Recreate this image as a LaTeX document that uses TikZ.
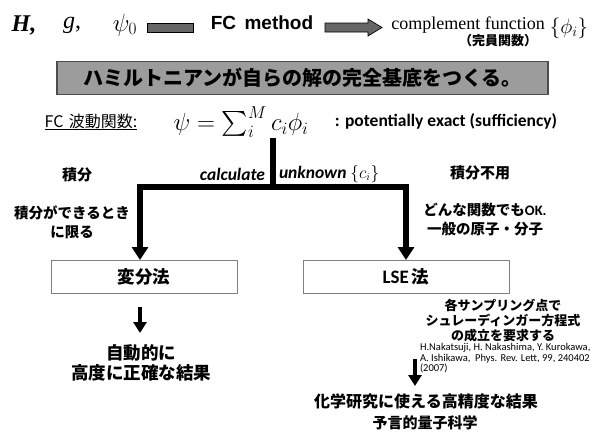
\documentclass[tikz,border=0pt]{standalone}
\usepackage{exscale}
\usepackage{fontspec}
\setmainfont{Liberation Serif}
\newfontfamily\jpfont{Noto Sans CJK JP}
\newfontfamily\arialfont{Liberation Sans}
\newfontfamily\calibrifont{Carlito}
\usetikzlibrary{arrows.meta}
\definecolor{bargray}{HTML}{666666}
\definecolor{bannergray}{HTML}{9C9C9C}
\definecolor{boxline}{HTML}{808080}
\newcommand{\fs}[1]{\fontsize{#1}{#1}\selectfont}
\begin{document}
\begin{tikzpicture}[x=1pt,y=-1pt,
  every node/.style={inner sep=0pt,outer sep=0pt},
  jpb/.style={font=\jpfont\bfseries},
  mainline/.style={line width=5.5pt},
  bigarrow/.style={line width=5.5pt,-{Triangle[length=13pt,width=16pt]}},
  smallarrow/.style={line width=4pt,-{Triangle[length=11pt,width=13pt]}},
  methodbox/.style={draw=boxline,line width=1pt,fill=white,minimum width=186pt,minimum height=33pt},
  blockshape/.style={draw=black,line width=0.7pt,fill=bargray}
]
\useasboundingbox (0,0) rectangle (601,437);
\fill[white] (0,0) rectangle (601,437);

% top row
\node (H) at (24,25) {\fs{24}\textbf{\textit{H,}}};
\node (g) at (72,25) {\fs{24}\textit{g},};
\node (psi0) at (125,25) {\fs{24}$\psi_0$};
\node[blockshape,minimum width=46pt,minimum height=9pt] (bar) at (170,27.5) {};
\node (fc) at (262,23) {\fs{19}\arialfont\bfseries FC\, method};
\filldraw[blockshape] (325,23) -- (368,23) -- (368,19) -- (382,27.5) -- (368,36) -- (368,32) -- (325,32) -- cycle;
\node (cf) at (468,25) {\fs{18}complement function};
\node (phi) at (569,28) {\fs{22}$\{\phi_i\}$};
\node[jpb] (kanin) at (498,41) {\fs{13}（完員関数）};

% banner
\node[draw=black!70,line width=1.2pt,fill=bannergray,minimum width=491pt,minimum height=33pt,jpb] (banner) at (302.5,78)
  {\fs{20}ハミルトニアンが自らの解の完全基底をつくる。};

% wavefunction row
\node (fcwf) at (91,121) {\fs{16}\jpfont FC\,\,波動関数:};
\draw[line width=0.8pt] ([yshift=-0.5pt]fcwf.south west) -- ([yshift=-0.5pt]fcwf.south east);
\node (eq) at (241,122) {\fs{25}$\psi=\textstyle\sum_i^M c_i\phi_i$};
\node (pot) at (446,121) {\fs{17.5}\calibrifont\bfseries : potentially exact (sufficiency)};

% tree connectors
\coordinate (top) at (273,138);
\coordinate (mid) at (273,187);
\coordinate (jL) at (140,187);
\coordinate (jR) at (406,187);
\node[methodbox] (var) at (144,276.5) {\fs{17.5}\jpfont\bfseries 変分法};
\node[methodbox,minimum width=206pt] (lse) at (406,276.5) {\fs{19}\calibrifont\bfseries LSE\,\fs{17.5}\jpfont 法};
\draw[mainline] (top) -- (mid);
\draw[mainline,line cap=rect] (jL) -- (jR);
\draw[bigarrow] (jL) -- (jL |- var.north);
\draw[bigarrow] (jR) -- (jR |- lse.north);

% labels on tree
\node[jpb] (sekibun) at (77,175) {\fs{15}積分};
\node[anchor=east] (calc) at (265,174) {\fs{17.5}\calibrifont\bfseries\itshape calculate};
\node[anchor=west] (unk) at (279,174) {\fs{17.5}\calibrifont\bfseries\itshape unknown\/ \fs{16}$\{c_i\}$};
\node[jpb] (fuyou) at (480,173) {\fs{15}積分不用};
\node[align=center,font=\jpfont\bfseries\fontsize{14.5}{19}\selectfont] (left) at (72,222.5) {積分ができるとき\\に限る};
\node[align=center,font=\jpfont\bfseries\fontsize{14.5}{19}\selectfont] (right) at (485,219.5) {どんな関数でも{\calibrifont\bfseries OK.}\\一般の原子・分子};

% below variational
\coordinate (va1) at (140,307);
\coordinate (va2) at (140,333);
\draw[smallarrow] (va1) -- (va2);
\node[align=center,font=\jpfont\bfseries\fontsize{17.5}{20}\selectfont] (auto) at (141,363) {自動的に\\高度に正確な結果};

% below LSE
\node[align=center,font=\jpfont\bfseries\fontsize{13}{15}\selectfont] (samp) at (503,320.5) {各サンプリング点で\\シュレーディンガー方程式\\の成立を要求する};
\node[anchor=north west,align=left,font=\calibrifont\fontsize{10.5}{10.8}\selectfont] (cite) at (420,343) {H.Nakatsuji, H. Nakashima, Y. Kurokawa,\\A. Ishikawa,\ \ Phys. Rev. Lett, 99, 240402\\(2007)};
\coordinate (la1) at (415,359);
\coordinate (la2) at (415,386);
\draw[smallarrow] (la1) -- (la2);
\node[jpb] (chem) at (426,401) {\fs{16}化学研究に使える高精度な結果};
\node[jpb] (pred) at (425,423) {\fs{15}予言的量子科学};
\end{tikzpicture}
\end{document}
